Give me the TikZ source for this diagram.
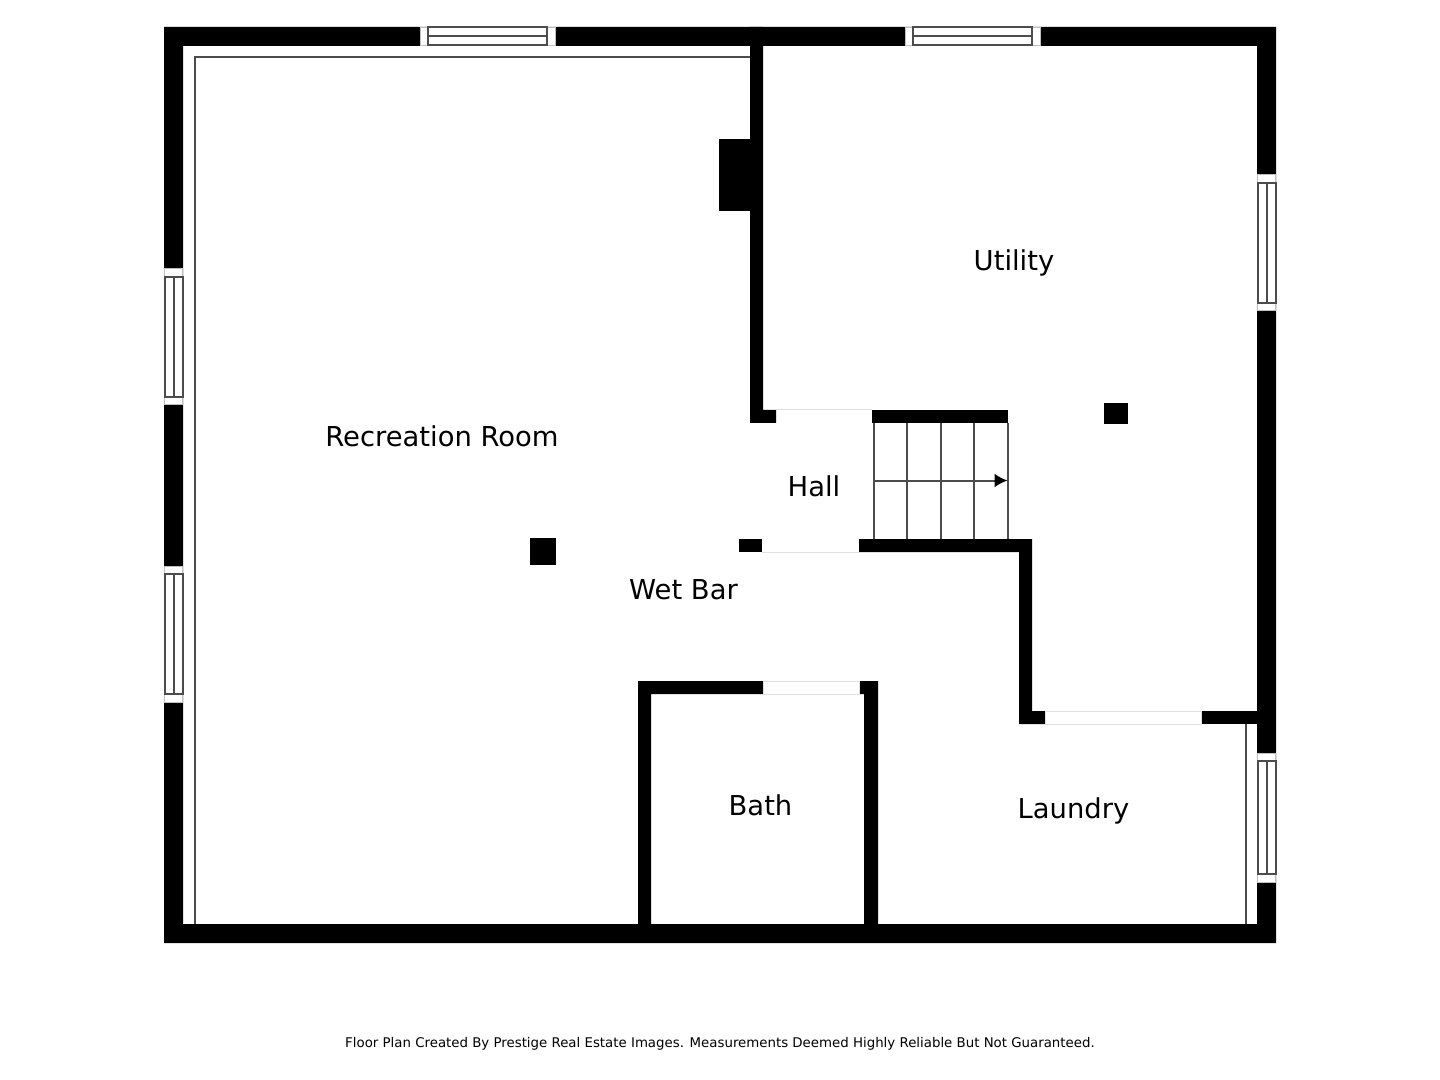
\documentclass[tikz,border=0pt]{standalone}
\usepackage{fontspec}
\setmainfont{DejaVu Sans}
\usetikzlibrary{arrows.meta}
\tikzset{
  wall/.style={fill=black,draw=none},
  thin line/.style={draw=black!70,line width=1pt},
  win line/.style={draw=black!70,line width=1pt},
  win cap/.style={draw=black!25,line width=0.5pt,fill=white},
  door line/.style={draw=black!12,line width=0.5pt},
  room label/.style={font=\fontsize{13.7}{16}\selectfont,inner sep=0pt,text=black},
}
\begin{document}
\begin{tikzpicture}[x=0.5pt,y=-0.5pt]
\useasboundingbox (0,0) rectangle (1440,1080);
\fill[white] (0,0) rectangle (1440,1080);
% outer and inner walls
\fill[wall,even odd rule] (164,27) rectangle (1276,943) (183,46) rectangle (1257,924);
\fill[wall] (750,27) -- (763,27) -- (763,410) -- (776,410) -- (776,423) -- (750,423) -- cycle;
\fill[wall] (872,410) rectangle (1008,423);
\fill[wall] (739,539) rectangle (762,552);
\fill[wall] (859,539) -- (1032,539) -- (1032,711) -- (1045,711) -- (1045,724) -- (1019,724) -- (1019,552) -- (859,552) -- cycle;
\fill[wall] (1201,711) rectangle (1257,724);
\fill[wall] (638,681) -- (763,681) -- (763,694) -- (651,694) -- (651,924) -- (638,924) -- cycle;
\fill[wall] (859,681) -- (878,681) -- (878,924) -- (864,924) -- (864,694) -- (859,694) -- cycle;
\fill[wall] (719,139) rectangle (750,211);
\fill[wall] (530,538) rectangle (556,565);
\fill[wall] (1104,403) rectangle (1128,424);
% door openings
\draw[door line] (776,410) -- (872,410) (762,552) -- (859,552);
\draw[door line,fill=white] (763,681) rectangle (859,694);
\draw[door line,fill=white] (1045,711) rectangle (1201,724);
% thin lines along the walls
\draw[thin line] (194.5,924) -- (194.5,57.5) -- (750,57.5);
\draw[thin line] (1245.5,724) -- (1245.5,924);
% windows along top
\foreach \xa/\xb in {420/555,905/1040}{
  \draw[win cap] (\xa,27.5) rectangle (\xb,45.5);
  \draw[win line] (\xa+8,27.5) rectangle (\xb-8,45.5);
  \draw[win line] (\xa+8,36.5) -- (\xb-8,36.5);
}
% windows along the sides
\foreach \xa/\ya/\yb in {164/269/405,164/566/702,1257/175/311,1257/753/882}{
  \draw[win cap] (\xa+0.5,\ya) rectangle (\xa+18.5,\yb);
  \draw[win line] (\xa+0.5,\ya+8) rectangle (\xa+18.5,\yb-8);
  \draw[win line] (\xa+9.5,\ya+8) -- (\xa+9.5,\yb-8);
}
% stairs
\foreach \xs in {873.5,907,940.5,974,1007.5}
  \draw[win line] (\xs,423) -- (\xs,539);
\draw[win line,-{Latex[length=6.5pt,width=7pt,black]}] (873.5,480.5) -- (1007.5,480.5);
% room names
\node[room label] (recroom) at (442,436.5) {Recreation Room};
\node[room label] (utility) at (1014,262.5) {Utility};
\node[room label] (hall) at (814,486) {Hall};
\node[room label] (wetbar) at (683.5,589.5) {Wet Bar};
\node[room label] (bath) at (760.5,805) {Bath};
\node[room label] (laundry) at (1073.5,810.5) {Laundry};
\node[font=\fontsize{6.67}{8}\selectfont,inner sep=0pt,text=black] (credit) at (720,1044) {Floor Plan Created By Prestige Real Estate Images. Measurements Deemed Highly Reliable But Not Guaranteed.};
\end{tikzpicture}
\end{document}
